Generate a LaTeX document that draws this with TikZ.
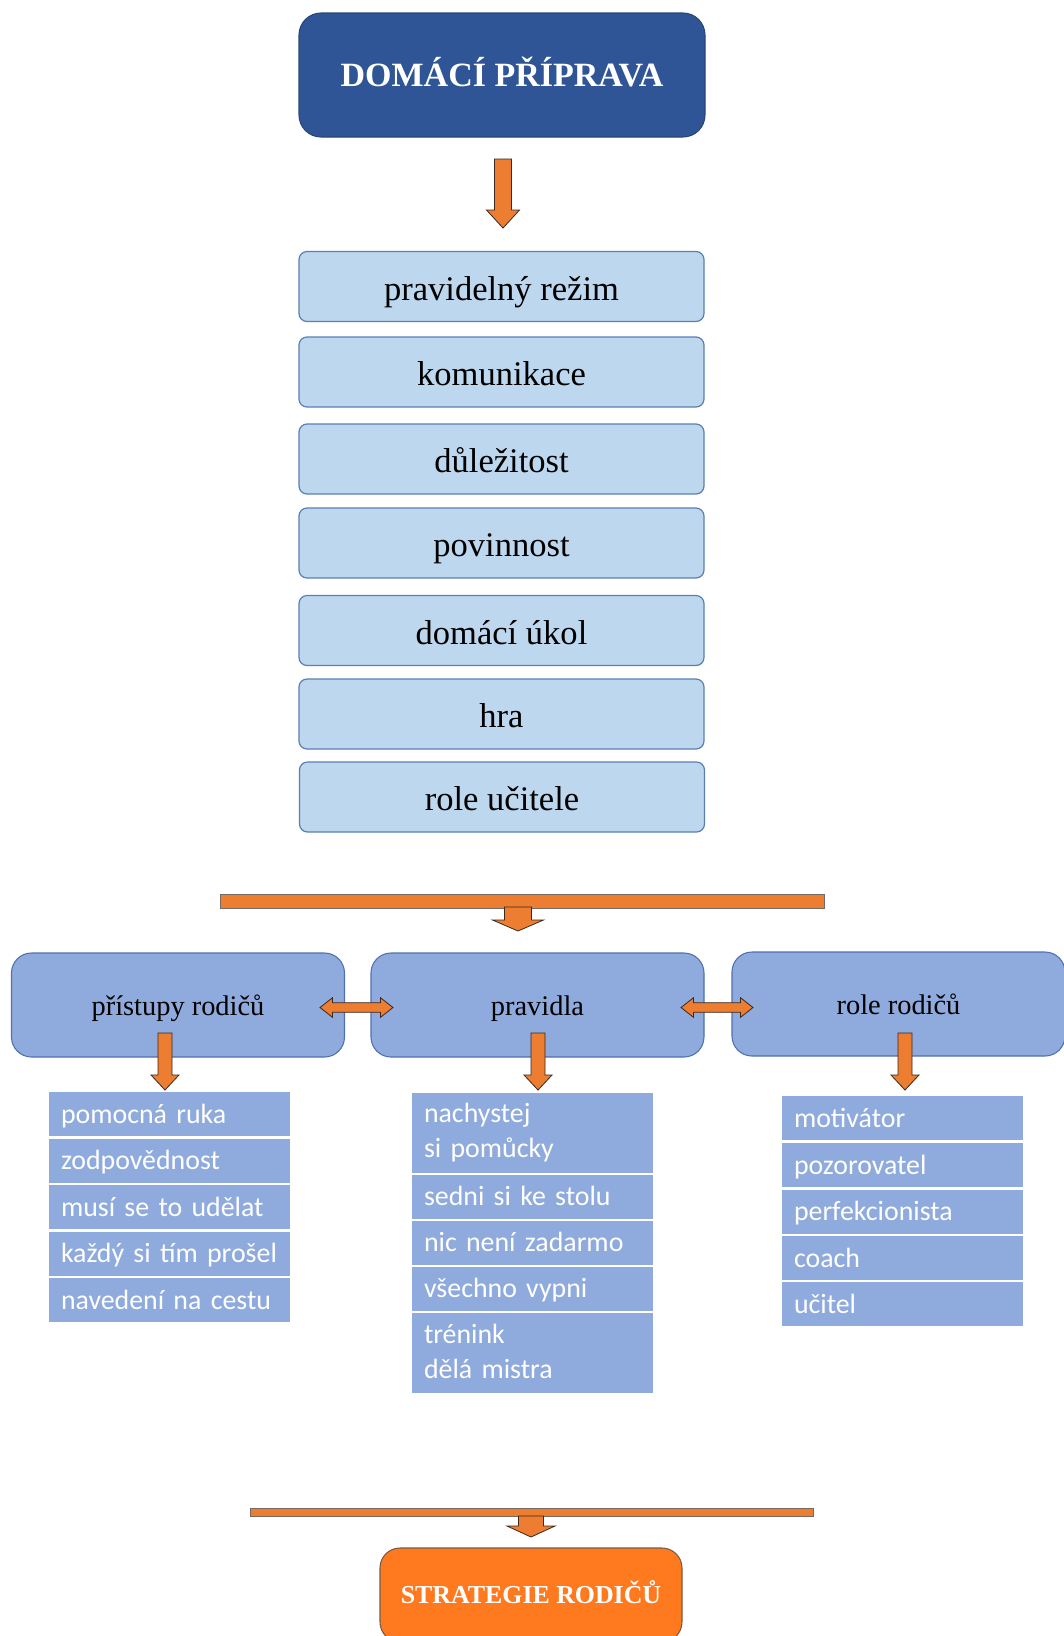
\documentclass[tikz,border=0pt]{standalone}
\usepackage{fontspec}
\setmainfont{Liberation Serif}
\newfontfamily\listfont[WordSpace=0.65]{Carlito}
\usetikzlibrary{calc}
\definecolor{titleblue}{HTML}{2F5597}
\definecolor{titleedge}{HTML}{2A4677}
\definecolor{lightblue}{HTML}{BDD7EE}
\definecolor{lightedge}{HTML}{5B7FB5}
\definecolor{midblue}{HTML}{8FAADC}
\definecolor{midedge}{HTML}{4F71B0}
\definecolor{arroworange}{HTML}{ED7D31}
\definecolor{arrowedge}{HTML}{3A2A20}
\definecolor{boxorange}{HTML}{FF7A1F}
\definecolor{boxorangeedge}{HTML}{7A5A45}
\newcommand{\blockdown}[5]{%
  \draw[orangearrow] ($(#1)+(-#3,0)$) -- ($(#1)+(#3,0)$) -- ($(#2)+(#3,-#5)$) -- ($(#2)+(#4,-#5)$) -- (#2) -- ($(#2)+(-#4,-#5)$) -- ($(#2)+(-#3,-#5)$) -- cycle;}
\newcommand{\blockboth}[5]{%
  \draw[orangearrow] (#1) -- ($(#1)+(#5,-#4)$) -- ($(#1)+(#5,-#3)$) -- ($(#2)+(-#5,-#3)$) -- ($(#2)+(-#5,-#4)$) -- (#2) -- ($(#2)+(-#5,#4)$) -- ($(#2)+(-#5,#3)$) -- ($(#1)+(#5,#3)$) -- ($(#1)+(#5,#4)$) -- cycle;}
\tikzset{
  orangearrow/.style={fill=arroworange, draw=arrowedge, line width=0.6pt, line join=miter},
  orangebar/.style={fill=arroworange, draw=arrowedge!70, line width=0.5pt},
  titlebox/.style={rectangle, rounded corners=16.5pt, fill=titleblue, draw=titleedge, line width=0.8pt,
    minimum width=304.5pt, minimum height=93pt, inner sep=0pt, text=white,
    text height=20pt, text depth=2.8pt,
    font=\fontsize{25.5pt}{30pt}\selectfont\bfseries},
  lightbox/.style={rectangle, rounded corners=6pt, fill=lightblue, draw=lightedge, line width=0.9pt,
    minimum width=303.75pt, minimum height=52.5pt, inner sep=0pt, text height=26pt, text depth=5.4pt,
    font=\fontsize{25.9pt}{31pt}\selectfont},
  midbox/.style={rectangle, rounded corners=15pt, fill=midblue, draw=midedge, line width=0.8pt,
    minimum width=249.75pt, minimum height=78pt, inner sep=0pt, text height=20.4pt, text depth=4pt,
    font=\fontsize{21.3pt}{26pt}\selectfont},
  listbase/.style={rectangle, fill=midblue, minimum width=180.75pt,
    inner xsep=9pt, inner ysep=0pt, text width=162.75pt, align=left, text=white,
    font=\listfont\fontsize{20.9pt}{26.25pt}\selectfont},
  listitem/.style={listbase, minimum height=33pt, text height=17pt, text depth=3pt},
  listtall/.style={listbase, minimum height=60pt, text height=14pt, text depth=29pt},
  endbox/.style={rectangle, rounded corners=15pt, fill=boxorange, draw=boxorangeedge, line width=0.8pt,
    minimum width=226.5pt, minimum height=70.5pt, inner sep=0pt, text=white,
    text height=15pt, text depth=2.8pt,
    font=\fontsize{19.4pt}{23pt}\selectfont\bfseries}
}
\begin{document}
\begin{tikzpicture}[x=0.75pt, y=-0.75pt]
\path[use as bounding box, clip] (0,0) rectangle (1064,1636);
\fill[white] (0,0) rectangle (1064,1636);

% title
\node[titlebox] (title) at (502,75) {DOMÁCÍ PŘÍPRAVA};

% light boxes
\node[lightbox] (b1) at (501.5,286.5) {pravidelný režim};
\node[lightbox] (b2) at (501.5,372) {komunikace};
\node[lightbox] (b3) at (501.5,459) {důležitost};
\node[lightbox] (b4) at (501.5,543) {povinnost};
\node[lightbox] (b5) at (501.5,630.5) {domácí úkol};
\node[lightbox] (b6) at (501.5,714) {hra};
\node[lightbox] (b7) at (502,797) {role učitele};

% top arrow
\coordinate (a1s) at (503,159);
\coordinate (a1t) at (503,228);
\blockdown{a1s}{a1t}{8.5}{16.5}{18}

% bar 1
\node[orangebar, rectangle, minimum width=453pt, minimum height=10.5pt, inner sep=0pt] (bar1) at (522,901) {};
\coordinate (a2s) at (518,907);
\coordinate (a2t) at (518,931);
\blockdown{a2s}{a2t}{13.5}{25.5}{11}

% middle row
\node[midbox] (m1) at (178,1005) {přístupy rodičů};
\node[midbox] (m2) at (537.5,1005) {pravidla};
\node[midbox] (m3) at (898.5,1004) {role rodičů};

\coordinate (d1l) at (320,1007.5);
\coordinate (d1r) at (393,1007.5);
\blockboth{d1l}{d1r}{4.8}{9.8}{12.5}
\coordinate (d2l) at (681,1007.5);
\coordinate (d2r) at (753,1007.5);
\blockboth{d2l}{d2r}{4.8}{9.8}{12.5}

\coordinate (l1s) at (165,1033);
\coordinate (l1t) at (165,1090);
\blockdown{l1s}{l1t}{7}{14}{15}
\coordinate (l2s) at (538,1033);
\coordinate (l2t) at (538,1090);
\blockdown{l2s}{l2t}{7}{14}{15}
\coordinate (l3s) at (905,1033);
\coordinate (l3t) at (905,1090);
\blockdown{l3s}{l3t}{7}{14}{15}

% left list
\node[listitem] (p1) at (169.5,1114) {pomocná ruka};
\node[listitem] (p2) at (169.5,1160.5) {zodpovědnost};
\node[listitem] (p3) at (169.5,1207) {musí se to udělat};
\node[listitem] (p4) at (169.5,1253.5) {každý si tím prošel};
\node[listitem] (p5) at (169.5,1300) {navedení na cestu};

% middle list
\node[listtall] (r1) at (532.5,1132.5) {nachystej\\si pomůcky};
\node[listitem] (r2) at (532.5,1196.5) {sedni si ke stolu};
\node[listitem] (r3) at (532.5,1242.5) {nic není zadarmo};
\node[listitem] (r4) at (532.5,1288.5) {všechno vypni};
\node[listtall] (r5) at (532.5,1353) {trénink\\dělá mistra};

% right list
\node[listitem] (s1) at (902.5,1118) {motivátor};
\node[listitem] (s2) at (902.5,1164.7) {pozorovatel};
\node[listitem] (s3) at (902.5,1211.5) {perfekcionista};
\node[listitem] (s4) at (902.5,1257.7) {coach};
\node[listitem] (s5) at (902.5,1304) {učitel};

% bar 2
\node[orangebar, rectangle, minimum width=422.25pt, minimum height=6pt, inner sep=0pt] (bar2) at (531.5,1512) {};
\coordinate (a3s) at (531,1516);
\coordinate (a3t) at (531,1537);
\blockdown{a3s}{a3t}{12.5}{24}{11}

% final box
\node[endbox] (end) at (531,1595) {STRATEGIE RODIČŮ};
\end{tikzpicture}
\end{document}
